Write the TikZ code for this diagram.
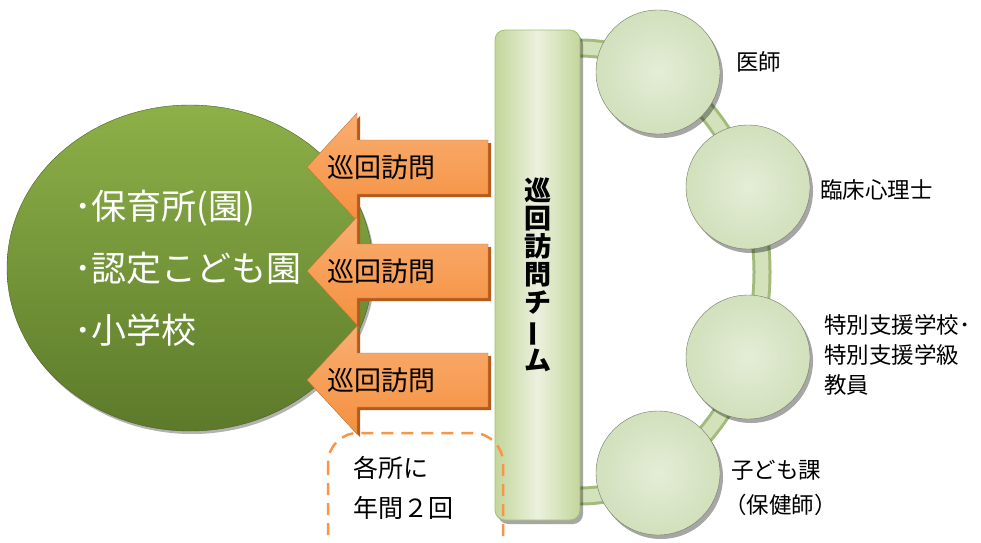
\documentclass[tikz,border=0pt]{standalone}
\usepackage{fontspec}
\setmainfont{Noto Sans CJK JP}
\usetikzlibrary{shadows,shapes.geometric}
\definecolor{olvL}{HTML}{8DB048}
\definecolor{olvD}{HTML}{5C7A2A}
\definecolor{orgL}{HTML}{FAAE72}
\definecolor{orgM}{HTML}{F4903F}
\definecolor{orgD}{HTML}{B45A1C}
\definecolor{barE}{HTML}{C3D69B}
\definecolor{barM}{HTML}{EBF1DE}
\definecolor{barB}{HTML}{A3BE72}
\definecolor{ringD}{HTML}{A2BB7B}
\definecolor{ringL}{HTML}{D3E2BA}
\definecolor{cirI}{HTML}{E4EDD7}
\definecolor{cirO}{HTML}{D2E0BC}
\definecolor{dashO}{HTML}{F79646}
\tikzset{
  visitarrow/.style={top color=orgL, bottom color=orgM, draw=orgM!80!black, line width=0.4pt},
  visitshadow/.style={fill=orgD},
  visitlabel/.style={font=\fontsize{27}{30}\selectfont, text=black, inner sep=0pt},
  member/.style={circle, minimum size=124pt, inner sep=0pt, shading=radial, inner color=cirI, outer color=cirO, draw=cirO!55!black, line width=0.4pt,
     drop shadow={shadow xshift=3pt, shadow yshift=-4pt, opacity=0.35, fill=black}},
  rolelabel/.style={font=\fontsize{22.5}{30}\selectfont, text=black, anchor=west, align=left, inner sep=0pt},
}
\begin{document}
\begin{tikzpicture}[x=1pt,y=-1pt]
\useasboundingbox (0,0) rectangle (981,542);
\clip (0,0) rectangle (981,542);
\fill[white] (0,0) rectangle (981,542);

% big ellipse
\node[ellipse, minimum width=366pt, minimum height=326pt, top color=olvL, bottom color=olvD, draw=olvD!80!black, line width=0.4pt,
  drop shadow={shadow xshift=2pt, shadow yshift=-3pt, opacity=0.3, fill=black}] (sites) at (190,268) {};
\node[font=\fontsize{35}{62}\selectfont, text=white, align=left, anchor=west, inner sep=0pt] (sitetext) at (74,268)
  {･保育所(園)\\･認定こども園\\･小学校};

% arrows
\foreach \c [count=\i] in {167,271,380}{
  \fill[visitshadow] (310,\c+3) -- (360,\c-51) -- (360,\c-24) -- (491,\c-24) -- (491,\c+30) -- (360,\c+30) -- (360,\c+57) -- cycle;
  \path[visitarrow] (307,\c) -- (357,\c-54) -- (357,\c-27) -- (488,\c-27) -- (488,\c+27) -- (357,\c+27) -- (357,\c+54) -- cycle;
  \node[visitlabel] (visit\i) at (381,\c) {巡回訪問};
}

% ring connecting team members
\draw[ringD, line width=19pt] (580,48) arc[start angle=-90, end angle=90, x radius=182, y radius=224];
\draw[ringL, line width=13pt] (580,48) arc[start angle=-90, end angle=90, x radius=182, y radius=224];

% team bar
\node[rectangle, rounded corners=10pt, minimum width=85pt, minimum height=490pt, inner sep=0pt,
  shading=axis, left color=barE, right color=barE, middle color=barM, shading angle=90, draw=barB, line width=0.8pt,
  drop shadow={shadow xshift=3pt, shadow yshift=-4pt, opacity=0.35, fill=black}] (team) at (537.5,275) {};
\node[font=\bfseries\fontsize{27}{28}\selectfont, align=center, inner sep=0pt] (teamtext) at (537.5,275)
  {巡\\回\\訪\\問\\チ\\\rotatebox[origin=c]{90}{ー}\\ム};

% members
\node[member] (doctor) at (658,72) {};
\node[member] (psych) at (748,187) {};
\node[member] (teacher) at (748,357) {};
\node[member] (nurse) at (658,473) {};

\node[rolelabel] (ldoctor) at (736,62) {医師};
\node[rolelabel] (lpsych) at (820,190) {臨床心理士};
\node[rolelabel] (lteacher) at (824,355) {特別支援学校･\\特別支援学級\\教員};
\node[rolelabel, font=\fontsize{22.5}{35}\selectfont] (lnurse) at (731,488) {子ども課\\\hspace*{-7pt}（保健師）};

% frequency box
\draw[dashO, line width=2.5pt, dash pattern=on 12pt off 8pt, rounded corners=30pt] (328,433) rectangle (503,575);
\node[font=\fontsize{25}{40}\selectfont, align=left, anchor=west, inner sep=0pt] (freq) at (353,488) {各所に\\年間２回};
\end{tikzpicture}
\end{document}
